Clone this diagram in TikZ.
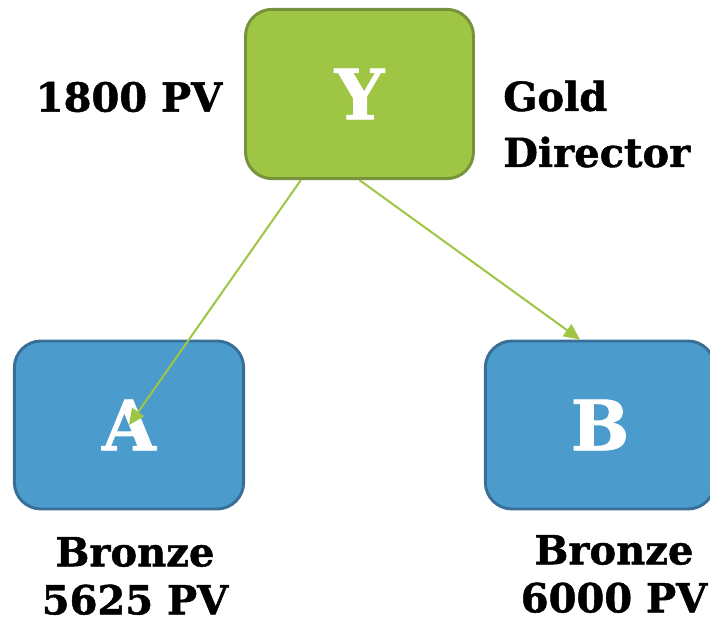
\documentclass[tikz,border=0pt]{standalone}
\usepackage{fontspec}
\setmainfont{DejaVu Serif}[BoldFeatures={FakeBold=1.2}]
\usetikzlibrary{arrows.meta}
\definecolor{leaf}{RGB}{158,197,68}
\definecolor{leafdark}{RGB}{118,146,58}
\definecolor{sky}{RGB}{75,156,204}
\definecolor{skydark}{RGB}{57,110,150}
\tikzset{
  greenbox/.style={draw=leafdark, fill=leaf, line width=2.2pt, rounded corners=20pt,
    minimum width=171pt, minimum height=127pt, text=white, font=\fontsize{52}{52}\selectfont\bfseries},
  bluebox/.style={draw=skydark, fill=sky, line width=2.2pt, rounded corners=20pt,
    minimum width=172pt, minimum height=126pt, text=white, font=\fontsize{52}{52}\selectfont\bfseries},
  lbl/.style={font=\fontsize{30}{36}\selectfont\bfseries, inner sep=0pt},
  link/.style={leaf, line width=1.5pt, -{Triangle[length=12pt,width=11pt]}}
}
\begin{document}
\begin{tikzpicture}[x=0.75pt, y=-0.75pt]
	\useasboundingbox (0,0) rectangle (710,623);
	% boxes
	\node[greenbox] (Y) at (359.5,94) {Y};
	\node[bluebox] (A) at (129,425) {A};
	\node[bluebox] (B) at (600,425) {B};
	% arrows
	\draw[link] ([xshift=-44pt]Y.south) -- (A.center);
	\draw[link] (Y.south) -- ([xshift=-15pt]B.north);
	% lables
	\node[lbl] (ypv) at (129,97) {1800 PV};
	\node[lbl, anchor=west, align=left, font=\fontsize{30}{42}\selectfont\bfseries] (yrank) at (503,124) {Gold\\Director};
	\node[lbl, align=center] (arank) at (135,576) {Bronze\\5625 PV};
	\node[lbl, align=center] (brank) at (614,574) {Bronze\\6000 PV};
\end{tikzpicture}
\end{document}
